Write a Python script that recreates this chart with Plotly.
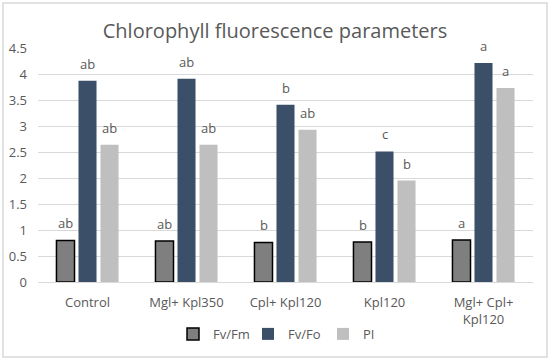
import plotly.graph_objects as go

categories = ["Control", "Mgl+ Kpl350", "Cpl+ Kpl120", "Kpl120", "Mgl+ Cpl+<br>Kpl120"]
fv_fm = [0.80, 0.79, 0.76, 0.77, 0.81]
fv_fo = [3.87, 3.91, 3.41, 2.51, 4.21]
pi = [2.64, 2.64, 2.93, 1.95, 3.73]
fv_fm_letters = ["ab", "ab", "b", "b", "a"]
fv_fo_letters = ["ab", "ab", "b", "c", "a"]
pi_letters = ["ab", "ab", "ab", "b", "a"]

FONT = "Open Sans"
GRAY = "#595959"

fig = go.Figure()
fig.add_trace(go.Bar(name="Fv/Fm", x=categories, y=fv_fm,
                     marker=dict(color="#7f7f7f", line=dict(color="#000000", width=1.5))))
fig.add_trace(go.Bar(name="Fv/Fo", x=categories, y=fv_fo,
                     marker=dict(color="#3b5068", line=dict(width=0))))
fig.add_trace(go.Bar(name="PI", x=categories, y=pi,
                     marker=dict(color="#bfbfbf", line=dict(width=0))))

annotations = []
for vals, letters, shift in [(fv_fm, fv_fm_letters, -22), (fv_fo, fv_fo_letters, 0), (pi, pi_letters, 22)]:
    for c, v, t in zip(categories, vals, letters):
        annotations.append(dict(x=c, y=v, text=t, showarrow=False, xshift=shift, yshift=6,
                                yanchor="bottom", font=dict(family=FONT, size=13, color=GRAY)))

fig.update_layout(
    width=550, height=361,
    paper_bgcolor="white", plot_bgcolor="white",
    margin=dict(l=38, r=17, t=48, b=79, autoexpand=False),
    title=dict(text="Chlorophyll fluorescence parameters", x=0.5, xanchor="center",
               xref="container", y=1 - 31 / 361, yanchor="middle",
               font=dict(family=FONT, size=20, color=GRAY)),
    barmode="group", bargap=0.333, bargroupgap=0.18,
    font=dict(family=FONT, size=13, color=GRAY),
    xaxis=dict(showline=True, linecolor="#d9d9d9", linewidth=1, ticks="", automargin=False,
               ticklabelstandoff=8,
               tickfont=dict(family=FONT, size=13, color=GRAY)),
    yaxis=dict(range=[0, 4.5], dtick=0.5, showgrid=True, gridcolor="#d9d9d9", gridwidth=1,
               zeroline=False, ticks="", tickformat="~g", automargin=False,
               ticklabelstandoff=10,
               tickfont=dict(family=FONT, size=13, color=GRAY)),
    legend=dict(orientation="h", x=0.5, xanchor="center", y=-0.222, yanchor="middle",
                itemwidth=30, entrywidth=30, entrywidthmode="pixels",
                font=dict(family=FONT, size=13, color=GRAY), traceorder="normal"),
    annotations=annotations,
    shapes=[dict(type="rect", xref="paper", yref="paper",
                 x0=(3 - 38) / 495, x1=(547 - 38) / 495,
                 y0=(282 - 357) / 234, y1=(282 - 3) / 234,
                 line=dict(color="#d9d9d9", width=1.5), fillcolor="rgba(0,0,0,0)", layer="below")],
)

fig.write_html("out.html", config={"displayModeBar": False},
               post_script="document.body.style.margin='0';")
